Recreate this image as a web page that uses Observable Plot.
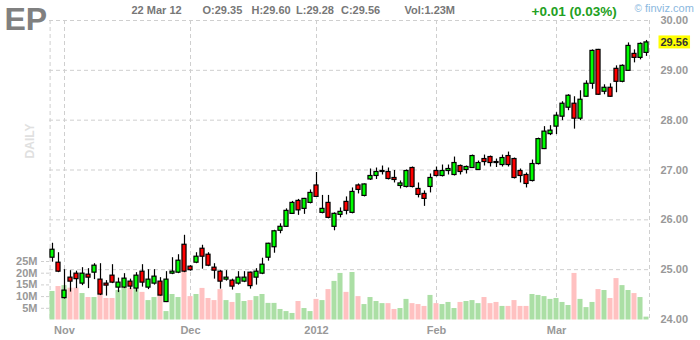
<!DOCTYPE html>
<html><head><meta charset="utf-8">
<script src="https://cdn.jsdelivr.net/npm/d3@7"></script>
<script src="https://cdn.jsdelivr.net/npm/@observablehq/plot@0.6"></script>
<style>
html,body{margin:0;padding:0;background:#fff;}
#chart{position:relative;width:700px;height:340px;overflow:hidden;}
#chart svg{position:absolute;left:0;top:0;}
</style></head><body><div id="chart"></div>
<script>
const ticker = "EP";
const lastDateLabel = "22 Mar 12";
const firstDay = "2011-10-28";
const lastDay = "2012-03-22";
const holidays = ["2011-11-24","2011-12-26","2012-01-02","2012-01-16","2012-02-20"];
const open  = [25.24,25.14,24.43,24.84,24.92,24.72,24.90,24.94,24.80,24.72,24.88,24.64,24.64,24.76,24.62,24.96,24.64,24.72,24.76,24.35,
               24.92,24.94,25.50,25.06,25.14,25.42,25.30,25.04,24.96,24.80,24.78,24.72,24.76,24.94,24.84,24.92,25.24,25.45,25.78,25.86,
               26.12,26.38,26.22,26.34,26.69,26.14,26.34,25.86,26.10,26.36,26.14,26.69,26.48,26.81,26.88,26.96,26.96,26.84,26.68,26.66,
               27.04,26.62,26.52,26.66,26.98,26.88,26.98,26.90,27.08,27.00,27.04,27.00,27.22,27.26,27.16,27.10,27.28,27.22,26.98,26.90,
               26.78,27.12,27.42,27.72,27.87,28.07,28.25,28.33,28.03,28.47,28.73,29.41,28.57,28.65,29.03,28.77,28.99,29.33,29.25,29.35];
const high  = [25.53,25.34,25.00,24.98,24.97,25.04,25.02,25.12,25.12,24.78,25.10,24.83,24.92,24.81,24.94,25.10,25.00,25.00,24.84,24.96,
               25.24,25.30,25.69,25.08,25.34,25.49,25.34,25.12,24.98,24.98,24.81,24.96,24.96,24.95,25.02,25.23,25.53,25.79,25.92,26.22,
               26.37,26.41,26.43,26.60,26.95,26.49,26.49,26.14,26.24,26.46,26.64,26.72,26.72,27.02,27.04,27.08,27.04,26.99,26.78,27.00,
               27.06,26.74,26.58,26.92,27.06,27.10,27.10,27.26,27.10,27.08,27.30,27.18,27.30,27.28,27.22,27.30,27.36,27.24,27.02,26.94,
               27.20,27.64,27.87,27.89,28.15,28.37,28.51,28.47,28.59,28.79,29.41,29.42,28.71,28.73,29.09,29.11,29.55,29.41,29.55,29.60];
const low   = [25.15,24.94,24.41,24.55,24.62,24.68,24.62,24.80,24.48,24.47,24.72,24.54,24.62,24.60,24.55,24.65,24.60,24.69,24.47,24.34,
               24.90,24.92,24.94,24.97,25.12,25.01,25.06,24.81,24.61,24.77,24.59,24.69,24.74,24.61,24.69,24.90,25.17,25.33,25.72,25.85,
               26.11,26.09,26.11,26.32,26.45,26.12,26.02,25.78,26.04,26.10,26.12,26.52,26.46,26.79,26.81,26.90,26.80,26.74,26.62,26.64,
               26.64,26.44,26.27,26.54,26.86,26.86,26.90,26.88,26.90,26.92,27.03,26.99,27.08,27.06,27.05,27.06,27.06,26.82,26.74,26.64,
               26.76,27.10,27.41,27.69,27.71,27.99,28.19,27.82,27.99,28.46,28.62,28.50,28.51,28.46,28.55,28.75,28.98,29.15,29.21,29.28];
const close = [25.40,24.96,24.58,24.76,24.81,24.92,24.84,25.08,24.50,24.68,24.74,24.74,24.82,24.66,24.88,24.74,24.80,24.86,24.48,24.80,
               24.96,25.18,24.96,24.99,25.26,25.26,25.08,24.98,24.76,24.84,24.66,24.84,24.84,24.67,24.96,25.10,25.52,25.77,25.86,26.18,
               26.34,26.19,26.42,26.54,26.46,26.22,26.04,26.12,26.16,26.18,26.56,26.60,26.71,26.88,26.96,26.98,26.82,26.80,26.73,26.98,
               26.66,26.50,26.42,26.84,26.88,26.98,27.02,27.14,26.96,27.06,27.28,27.14,27.16,27.14,27.14,27.24,27.10,26.84,26.88,26.72,
               27.12,27.62,27.77,27.79,28.09,28.33,28.49,28.03,28.41,28.73,29.39,28.51,28.65,28.47,28.77,29.09,29.49,29.25,29.53,29.56];
const volume = [12.2,14.3,14.7,13.6,13.6,11.3,9.6,9.6,10.5,9.2,9.2,12.6,13.6,13.7,13.0,11.8,8.3,9.6,10.6,3.6,
                10.9,9.6,20.3,10.0,10.9,13.5,9.2,8.3,13.0,8.3,7.5,11.3,7.9,8.3,10.0,10.9,7.1,7.1,4.5,3.6,
                2.8,7.9,4.9,3.6,8.8,8.3,13.0,16.5,19.9,11.8,20.3,10.0,6.6,9.6,7.9,7.0,7.0,4.5,4.9,8.8,
                7.0,6.6,5.8,10.5,7.0,6.6,7.5,4.9,7.5,7.9,8.3,7.0,9.6,7.0,7.5,5.8,5.8,8.3,5.8,5.8,
                10.9,10.5,10.0,8.8,9.2,7.5,6.2,19.9,8.8,5.3,7.5,13.0,12.6,9.2,17.7,14.7,12.6,11.3,9.6,1.23];
const priceTicks = [24,25,26,27,28,29,30];
const volumeTicks = [5,10,15,20,25];
const monthLabels = ["Nov","Dec","2012","Feb","Mar"];
const changeLabel = "+0.01 (0.03%)";
const volLabel = "Vol:1.23M";

const FONT = "'Liberation Sans', Arial, sans-serif";
const W = 700, H = 340;
const ML = 49, MR = 51, MT = 20, MB = 21;

// trading days
const hol = new Set(holidays);
const dates = d3.utcDays(new Date(firstDay), d3.utcDay.offset(new Date(lastDay), 1))
  .filter(d => d.getUTCDay() !== 0 && d.getUTCDay() !== 6 && !hol.has(d3.utcFormat("%Y-%m-%d")(d)));

const rows = open.map((o, i) => ({
  i, date: dates[i], open: o, high: high[i], low: low[i], close: close[i], volume: volume[i], up: close[i] >= o
}));
const monthStarts = rows.filter((d, k) => k > 0 && d.date.getUTCMonth() !== rows[k - 1].date.getUTCMonth()).map(d => d.i);
const monthName = new Map(monthStarts.map((m, k) => [m, monthLabels[k]]));
const last = rows[rows.length - 1];
const xScale = {type: "linear", domain: [-0.5, rows.length - 0.5], axis: null};
const grid = {stroke: "#cfcfcf", strokeDasharray: "4,3"};

const base = Plot.plot({
  width: W, height: H, marginLeft: ML, marginRight: MR, marginTop: MT, marginBottom: MB,
  style: {background: "transparent", fontFamily: FONT, overflow: "visible"},
  x: xScale, y: {domain: [24, 30], axis: null},
  marks: [
    Plot.ruleY(priceTicks.filter(t => t > 24), grid),
    Plot.ruleX(monthStarts, grid),
    Plot.ruleX([-0.4, rows.length - 0.5], grid),
    Plot.axisY(priceTicks, {anchor: "right", tickSize: 0, tickPadding: 11, tickFormat: d3.format(".2f"),
      fill: "#999", fontWeight: "bold", fontSize: 11, label: null}),
    Plot.axisX(monthStarts, {anchor: "bottom", tickSize: 0, tickPadding: 7, tickFormat: m => monthName.get(m),
      fill: "#999", fontWeight: "bold", fontSize: 11, label: null})
  ]
});

const vol = Plot.plot({
  width: W, height: H, marginLeft: ML, marginRight: MR, marginTop: 261, marginBottom: 20.5,
  style: {background: "transparent", fontFamily: FONT, overflow: "visible"},
  x: xScale, y: {domain: [0, 25], axis: null, label: null},
  marks: [
    Plot.axisY(volumeTicks, {anchor: "left", tickSize: 8, tickPadding: 4, tickFormat: d => d + "M",
      stroke: "#cfcfcf", strokeDasharray: "3,2", fill: "#999", fontWeight: "bold", fontSize: 11, label: null}),
    Plot.rectY(rows, {x1: d => d.i - 0.42, x2: d => d.i + 0.42, y1: 0, y2: "volume",
      fill: d => d.up ? "#abdfa5" : "#ffc1c1"})
  ]
});

const candles = Plot.plot({
  width: W, height: H, marginLeft: ML, marginRight: MR, marginTop: MT, marginBottom: MB,
  style: {background: "transparent", fontFamily: FONT, overflow: "visible"},
  x: xScale, y: {domain: [24, 30], axis: null},
  marks: [
    Plot.ruleX(rows, {x: "i", y1: "low", y2: "high", stroke: "#000", strokeWidth: 1.2}),
    Plot.rect(rows, {x1: d => d.i - 0.34, x2: d => d.i + 0.34, y1: "open", y2: "close",
      fill: d => d.up ? "#00ff00" : "#ff0000", stroke: "#000", strokeWidth: 1.2}),
    Plot.text([last], {y: "close", frameAnchor: "right", dx: 11, textAnchor: "start", text: d => d3.format(".2f")(d.close),
      fill: "#333", fontWeight: "bold", fontSize: 11, className: "lastlabel"})
  ]
});

const root = document.getElementById("chart");
root.append(base, vol, candles);

// yellow box behind the last price
const lt = candles.querySelector("g.lastlabel text");
if (lt) {
  const bb = lt.getBBox();
  const g = lt.parentNode;
  const r = document.createElementNS("http://www.w3.org/2000/svg", "rect");
  r.setAttribute("x", bb.x - 2); r.setAttribute("y", bb.y - 0.5);
  r.setAttribute("width", bb.width + 4); r.setAttribute("height", bb.height + 1);
  r.setAttribute("fill", "#ffff00");
  const tr = lt.getAttribute("transform"); if (tr) r.setAttribute("transform", tr);
  g.insertBefore(r, lt);
}

// header and side texts
const svg = d3.select(candles);
const hdr = svg.append("g").attr("font-family", FONT).attr("text-anchor", "start");
hdr.append("text").attr("x", 4.5).attr("y", 30).attr("font-size", 32).attr("font-weight", "bold").attr("fill", "#808080").text(ticker);
const small = [
  [131.5, lastDateLabel],
  [202.5, "O:" + d3.format(".2f")(last.open)],
  [251.5, "H:" + d3.format(".2f")(last.high)],
  [296, "L:" + d3.format(".2f")(last.low)],
  [341, "C:" + d3.format(".2f")(last.close)],
  [404.5, volLabel]
];
small.forEach(([x, t]) => hdr.append("text").attr("x", x).attr("y", 14).attr("font-size", 11)
  .attr("font-weight", "bold").attr("fill", "#777").text(t));
hdr.append("text").attr("x", 531.5).attr("y", 15.5).attr("font-size", 13.5).attr("font-weight", "bold")
  .attr("fill", "#22a022").text(changeLabel);
hdr.append("text").attr("x", 634.5).attr("y", 12).attr("font-size", 10).attr("fill", "#8ab8e0").text("\u00a9");
hdr.append("text").attr("x", 645).attr("y", 12).attr("font-size", 11).attr("fill", "#8ab8e0").text("finviz.com");
hdr.append("text").attr("transform", "translate(34,141) rotate(-90)").attr("text-anchor", "middle")
  .attr("font-size", 12).attr("font-weight", "bold").attr("fill", "#e0e0e0").text("DAILY");
</script></body></html>
